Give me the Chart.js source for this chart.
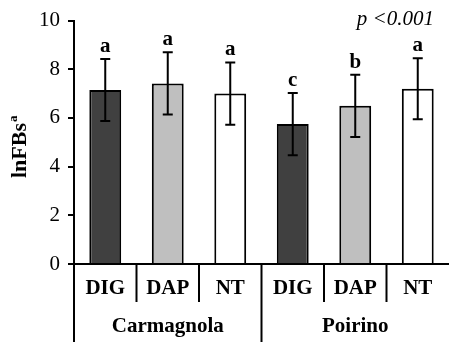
<!DOCTYPE html>
<html>
<head>
<meta charset="utf-8">
<script src="https://cdn.jsdelivr.net/npm/chart.js@4.4.0/dist/chart.umd.min.js"></script>
<style>
  html, body { margin: 0; padding: 0; background: #fff; }
  #wrap { width: 449px; height: 342px; }
</style>
</head>
<body>
<div id="wrap"><canvas id="c" width="449" height="342"></canvas></div>
<script>
// ---- data ----
const treatments = ['DIG', 'DAP', 'NT', 'DIG', 'DAP', 'NT'];
const sites = ['Carmagnola', 'Poirino'];
const means = [7.15, 7.42, 7.0, 5.75, 6.5, 7.2];
const errors = [1.27, 1.28, 1.28, 1.28, 1.28, 1.25];
const letters = ['a', 'a', 'a', 'c', 'b', 'a'];
const yTicks = [0, 2, 4, 6, 8, 10];
const barColors = ['#404040', '#bfbfbf', '#ffffff', '#404040', '#bfbfbf', '#ffffff'];
const yTitle = 'lnFBs';
const yTitleSup = 'a';
const pText = 'p <0.001';

const SERIF = "'Liberation Serif', 'Times New Roman', Times, serif";

const annot = {
  id: 'annot',
  afterDatasetsDraw(chart) {
    const ctx = chart.ctx;
    const x = chart.scales.x, y = chart.scales.y;
    ctx.save();
    ctx.strokeStyle = '#000';
    ctx.lineWidth = 2;
    means.forEach((m, i) => {
      const cx = x.getPixelForValue(i);
      const top = y.getPixelForValue(m + errors[i]);
      const bot = y.getPixelForValue(m - errors[i]);
      ctx.beginPath();
      ctx.moveTo(cx, top); ctx.lineTo(cx, bot);
      ctx.moveTo(cx - 5, top); ctx.lineTo(cx + 5, top);
      ctx.moveTo(cx - 5, bot); ctx.lineTo(cx + 5, bot);
      ctx.stroke();
      ctx.fillStyle = '#000';
      ctx.font = 'bold 21px ' + SERIF;
      ctx.textAlign = 'center';
      ctx.textBaseline = 'alphabetic';
      ctx.fillText(letters[i], cx, top - 7);
    });
    ctx.restore();
  },
  afterDraw(chart) {
    const ctx = chart.ctx;
    const x = chart.scales.x;
    const area = chart.chartArea;
    const H = chart.height;
    ctx.save();
    ctx.fillStyle = '#000';
    ctx.strokeStyle = '#000';
    ctx.lineWidth = 2;
    // separators
    const n = treatments.length;
    for (let i = 0; i < n; i++) {
      let bx;
      if (i === 0) bx = area.left;
      else bx = (x.getPixelForValue(i - 1) + x.getPixelForValue(i)) / 2;
      const long = (i % 3 === 0);
      ctx.beginPath();
      ctx.moveTo(bx, area.bottom);
      ctx.lineTo(bx, long ? H : area.bottom + 38);
      ctx.stroke();
    }
    // treatment labels
    ctx.font = 'bold 21px ' + SERIF;
    ctx.textAlign = 'center';
    ctx.textBaseline = 'middle';
    treatments.forEach((t, i) => {
      ctx.fillText(t, x.getPixelForValue(i), area.bottom + 25);
    });
    // site labels
    sites.forEach((s, g) => {
      const cx = (x.getPixelForValue(g * 3) + x.getPixelForValue(g * 3 + 2)) / 2;
      ctx.fillText(s, cx, area.bottom + 63);
    });
    // y title
    ctx.save();
    ctx.translate(20, (area.top + area.bottom) / 2 + 5);
    ctx.rotate(-Math.PI / 2);
    ctx.font = 'bold 22px ' + SERIF;
    const w1 = ctx.measureText(yTitle).width;
    ctx.font = 'bold 13px ' + SERIF;
    const w2 = ctx.measureText(yTitleSup).width;
    const start = -(w1 + w2) / 2;
    ctx.textAlign = 'left';
    ctx.textBaseline = 'middle';
    ctx.font = 'bold 22px ' + SERIF;
    ctx.fillText(yTitle, start, 0);
    ctx.font = 'bold 13px ' + SERIF;
    ctx.fillText(yTitleSup, start + w1 + 1, -6);
    ctx.restore();
    // p value
    ctx.font = 'italic 21px ' + SERIF;
    ctx.textAlign = 'right';
    ctx.textBaseline = 'middle';
    ctx.fillText(pText, 434, 19);
    ctx.restore();
  }
};

new Chart(document.getElementById('c'), {
  type: 'bar',
  data: {
    labels: treatments,
    datasets: [{
      data: means,
      backgroundColor: barColors,
      borderColor: '#000',
      borderWidth: 2,
      categoryPercentage: 1.0,
      barPercentage: 0.51
    }]
  },
  options: {
    responsive: false,
    animation: false,
    devicePixelRatio: 1,
    layout: { padding: { top: 18, right: 0, left: 0, bottom: 0 } },
    plugins: { legend: { display: false }, tooltip: { enabled: false } },
    scales: {
      x: {
        grid: { display: false },
        ticks: { display: false },
        border: { display: true, color: '#000', width: 2 },
        afterFit(s) { s.height = 78; }
      },
      y: {
        min: 0, max: 10,
        afterBuildTicks(s) { s.ticks = yTicks.map(v => ({ value: v })); },
        ticks: {
          color: '#000',
          font: { family: SERIF, size: 21 },
          padding: 8
        },
        grid: { drawOnChartArea: false, drawTicks: true, tickLength: 6, color: '#000', lineWidth: 2 },
        border: { display: true, color: '#000', width: 2 },
        afterFit(s) { s.width = 74; }
      }
    }
  },
  plugins: [annot]
});
</script>
</body>
</html>
